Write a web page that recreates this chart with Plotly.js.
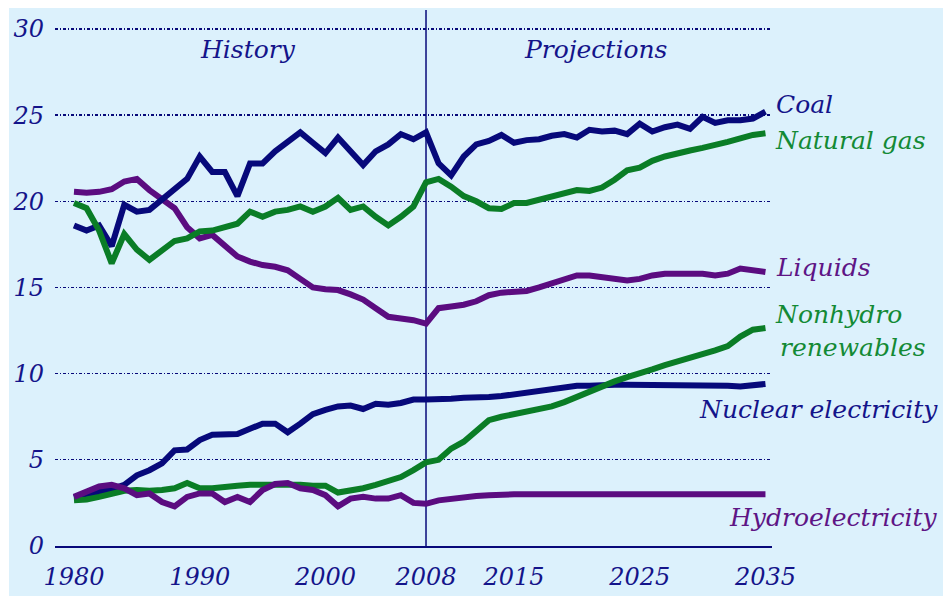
<!DOCTYPE html>
<html>
<head>
<meta charset="utf-8">
<script src="https://cdn.plot.ly/plotly-3.0.1.min.js"></script>
<style>
html,body{margin:0;padding:0;background:#ffffff;width:943px;height:596px;overflow:hidden;}
#chart{position:absolute;left:9px;top:8px;width:934px;height:588px;}
</style>
</head>
<body>
<div id="chart"></div>
<script>
// Years 1980-2035 (history to 2008, projections after)
var years = [];
for (var yr = 1980; yr <= 2035; yr++) years.push(yr);

var coal = [18.6, 18.3, 18.6, 17.4, 19.8, 19.4, 19.5, 20.1, 20.7, 21.3,
  22.6, 21.7, 21.7, 20.3, 22.2, 22.2, 22.9, 23.5, 24.0, 23.4,
  22.8, 23.7, 22.9, 22.1, 22.9, 23.3, 23.9, 23.6, 24.0,
  22.2, 21.5, 22.6, 23.3, 23.5, 23.85, 23.4, 23.55, 23.6, 23.8,
  23.9, 23.7, 24.15, 24.05, 24.1, 23.9, 24.5, 24.05, 24.3, 24.45,
  24.2, 24.9, 24.55, 24.7, 24.7, 24.8, 25.2];

var naturalGas = [19.9, 19.6, 18.3, 16.4, 18.1, 17.2, 16.6, 17.2, 17.7, 17.85,
  18.25, 18.3, 18.5, 18.7, 19.4, 19.1, 19.4, 19.5, 19.7, 19.4,
  19.7, 20.2, 19.5, 19.7, 19.1, 18.6, 19.1, 19.7, 21.1,
  21.3, 20.85, 20.3, 20.0, 19.6, 19.55, 19.9, 19.9, 20.1, 20.3,
  20.5, 20.65, 20.6, 20.8, 21.25, 21.8, 21.95, 22.35, 22.6, 22.8,
  22.95, 23.1, 23.25, 23.45, 23.65, 23.85, 23.95];

var liquids = [20.55, 20.5, 20.55, 20.7, 21.15, 21.3, 20.65, 20.1, 19.6, 18.5,
  17.85, 18.05, 17.4, 16.8, 16.5, 16.3, 16.2, 16.0, 15.5, 15.0,
  14.9, 14.85, 14.6, 14.3, 13.8, 13.3, 13.2, 13.1, 12.9,
  13.8, 13.9, 14.0, 14.2, 14.55, 14.7, 14.75, 14.8, 15.0, 15.25,
  15.5, 15.7, 15.7, 15.6, 15.5, 15.4, 15.5, 15.7, 15.8, 15.8,
  15.8, 15.8, 15.7, 15.8, 16.1, 16.0, 15.9];

var nonhydro = [2.65, 2.7, 2.85, 3.05, 3.2, 3.25, 3.2, 3.25, 3.35, 3.65,
  3.35, 3.35, 3.45, 3.5, 3.55, 3.55, 3.6, 3.6, 3.55, 3.5,
  3.5, 3.1, 3.2, 3.35, 3.55, 3.75, 4.0, 4.4, 4.85,
  5.0, 5.65, 6.05, 6.65, 7.3, 7.5, 7.65, 7.8, 8.0, 8.1,
  8.35, 8.65, 8.95, 9.3, 9.55, 9.8, 10.0, 10.25, 10.5, 10.7,
  10.9, 11.15, 11.35, 11.6, 12.15, 12.55, 12.65];

var nuclear = [2.8, 3.0, 3.15, 3.3, 3.55, 4.1, 4.4, 4.8, 5.55, 5.6,
  6.15, 6.45, 6.5, 6.5, 6.8, 7.1, 7.1, 6.6, 7.1, 7.65,
  7.9, 8.1, 8.15, 7.95, 8.25, 8.2, 8.3, 8.5, 8.5,
  8.5, 8.55, 8.6, 8.6, 8.65, 8.7, 8.8, 8.9, 9.0, 9.1,
  9.2, 9.3, 9.3, 9.35, 9.35, 9.35, 9.35, 9.35, 9.35, 9.35,
  9.3, 9.3, 9.3, 9.3, 9.25, 9.3, 9.4];

var hydro = [2.85, 3.15, 3.45, 3.55, 3.35, 2.95, 3.05, 2.55, 2.3, 2.85,
  3.05, 3.05, 2.55, 2.85, 2.55, 3.25, 3.6, 3.65, 3.35, 3.25,
  2.95, 2.3, 2.75, 2.85, 2.75, 2.75, 2.95, 2.5, 2.45,
  2.65, 2.75, 2.85, 2.9, 2.95, 3.0, 3.0, 3.0, 3.0, 3.0,
  3.0, 3.0, 3.0, 3.0, 3.0, 3.0, 3.0, 3.0, 3.0, 3.0,
  3.0, 3.0, 3.0, 3.0, 3.0, 3.0, 3.0];

var xTickVals = [1980, 1990, 2000, 2008, 2015, 2025, 2035];
var xTickText = ['1980', '1990', '2000', '2008', '2015', '2025', '2035'];
var yTickVals = [0, 5, 10, 15, 20, 25, 30];
var dividerYear = 2008;

var NAVY = '#07097a';
var GREEN = '#0a7d26';
var PURPLE = '#5b0c80';
var TXTNAVY = '#14148a';
var TXTGREEN = '#138a35';
var TXTPURPLE = '#5e1585';
var FONT = 'DejaVu Serif, serif';

function line(y, color, name) {
  return {x: years, y: y, type: 'scatter', mode: 'lines', name: name,
    line: {color: color, width: 6, shape: 'linear'}, hoverinfo: 'skip'};
}

var data = [
  line(nuclear, NAVY, 'Nuclear electricity'),
  line(nonhydro, GREEN, 'Nonhydro renewables'),
  line(hydro, PURPLE, 'Hydroelectricity'),
  line(liquids, PURPLE, 'Liquids'),
  line(coal, NAVY, 'Coal'),
  line(naturalGas, GREEN, 'Natural gas')
];

function lab(text, x, y, color, xanchor, xref, yref) {
  return {text: text, x: x, y: y, xref: xref, yref: yref, showarrow: false,
    xanchor: xanchor, yanchor: 'middle',
    font: {family: FONT, size: 25, color: color, style: 'italic'}};
}

var layout = {
  width: 934, height: 588,
  margin: {l: 46, r: 171, t: 2, b: 50},
  paper_bgcolor: '#dcf1fc',
  plot_bgcolor: '#dcf1fc',
  showlegend: false,
  xaxis: {
    range: [1978.49, 2035.52], tickvals: xTickVals, ticktext: xTickText,
    showgrid: false, zeroline: false, showline: true, linecolor: NAVY, linewidth: 1.5,
    ticks: '', ticklabelstandoff: 9,
    tickfont: {family: FONT, size: 24, color: TXTNAVY, style: 'italic'}
  },
  yaxis: {
    range: [0, 31.1], tickvals: yTickVals,
    showgrid: true, gridcolor: NAVY, gridwidth: 1.3, griddash: '3px,2px,1px,2px',
    zeroline: true, zerolinecolor: NAVY, zerolinewidth: 1.5,
    showline: false, ticks: '', ticklabelstandoff: 10,
    tickfont: {family: FONT, size: 24, color: TXTNAVY, style: 'italic'}
  },
  shapes: [{type: 'line', xref: 'x', yref: 'paper', x0: dividerYear, x1: dividerYear, y0: 0, y1: 1,
    line: {color: NAVY, width: 1.5}, layer: 'below'}],
  annotations: [
    lab('History', 1993.84, 28.8, TXTNAVY, 'center', 'x', 'y'),
    lab('Projections', 2021.5, 28.8, TXTNAVY, 'center', 'x', 'y'),
    lab('Coal', 1.003, 0.823, TXTNAVY, 'left', 'paper', 'paper'),
    lab('Natural gas', 1.002, 0.757, TXTGREEN, 'left', 'paper', 'paper'),
    lab('Liquids', 1.003, 0.519, TXTPURPLE, 'left', 'paper', 'paper'),
    lab('Nonhydro', 1.001, 0.431, TXTGREEN, 'left', 'paper', 'paper'),
    lab('renewables', 1.008, 0.370, TXTGREEN, 'left', 'paper', 'paper'),
    lab('Nuclear electricity', 1.2343, 0.254, TXTNAVY, 'right', 'paper', 'paper'),
    lab('Hydroelectricity', 1.2343, 0.054, TXTPURPLE, 'right', 'paper', 'paper')
  ]
};

Plotly.newPlot('chart', data, layout, {staticPlot: true, displayModeBar: false});
</script>
</body>
</html>
